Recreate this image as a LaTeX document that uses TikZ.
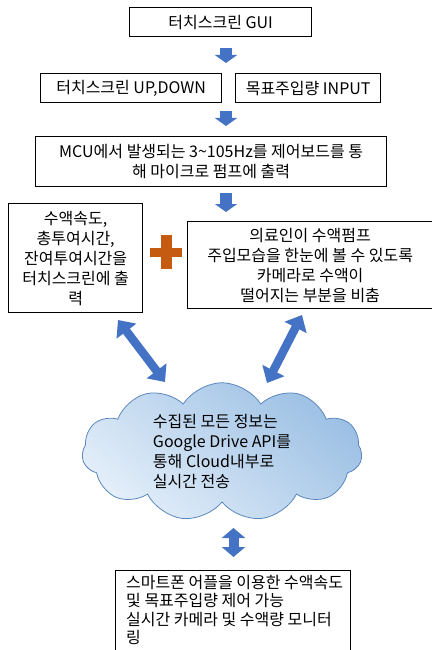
\documentclass[tikz,border=0pt]{standalone}
\usepackage{fontspec}
\setmainfont{Noto Sans CJK KR}
\usetikzlibrary{arrows.meta,shapes.symbols,calc}
\definecolor{arrowblue}{HTML}{4472C4}
\definecolor{plusorange}{HTML}{C55A11}
\definecolor{cloudlight}{HTML}{E3EEF9}
\definecolor{clouddark}{HTML}{9CC0E4}
\definecolor{cloudedge}{HTML}{5B87BE}
\begin{document}
\begin{tikzpicture}[x=1pt,y=-1pt,
  txt/.style={font=\fontsize{16}{20}\selectfont},
  box/.style={txt, draw=black, line width=1.3pt, fill=white, align=center, inner sep=0pt, anchor=north west},
  downarrow/.style={arrowblue, line width=12pt, -{Triangle[width=22pt,length=8pt]}},
  dblarrow/.style={arrowblue, line width=8.5pt, {Triangle[width=24pt,length=14pt]}-{Triangle[width=24pt,length=14pt]}},
  vdblarrow/.style={arrowblue, line width=10pt, {Triangle[width=23pt,length=10pt]}-{Triangle[width=23pt,length=10pt]}},
  plusbar/.style={fill=plusorange, draw=none}
]
\useasboundingbox (0,0) rectangle (431,650);

% boxes
\node[box, minimum width=182, minimum height=29] (gui) at (129,7) {터치스크린 GUI};
\node[box, minimum width=181, minimum height=29] (updown) at (40,73) {터치스크린 UP,DOWN};
\node[box, minimum width=145, minimum height=29] (input) at (235,73) {목표주입량 INPUT};
\node[box, minimum width=351, minimum height=50] (mcu) at (35,136) {MCU에서 발생되는 3\textasciitilde 105Hz를 제어보드를 통\\해 마이크로 펌프에 출력};
\node[box, minimum width=134, minimum height=109] (left) at (8,203) {수액속도,\\총투여시간,\\잔여투여시간을\\터치스크린에 출\\력};
\node[box, minimum width=245, minimum height=87] (right) at (187,221) {의료인이 수액펌프\\주입모습을 한눈에 볼 수 있도록\\카메라로 수액이\\떨어지는 부분을 비춤};

% cloud
\node[cloud, cloud puffs=11, cloud puff arc=115, aspect=2.3, minimum width=280, minimum height=120,
  draw=cloudedge, line width=0.8pt, shading=axis, top color=clouddark, bottom color=cloudlight, shading angle=-40,
  txt, align=left, inner sep=0pt] (cloud) at (222,452) {수집된 모든 정보는\\Google Drive API를\\통해 Cloud내부로\\실시간 전송};

% bottom box
\node[box, minimum width=235, minimum height=84] (app) at (115,570) {};
\node[font=\fontsize{16}{18.5}\selectfont, align=left, anchor=north west, inner sep=0pt] (apptext) at (126,575) {스마트폰 어플을 이용한 수액속도\\및 목표주입량 제어 가능\\실시간 카메라 및 수액량 모니터\\링};

% down arrows
\coordinate (a1s) at (226,48); \coordinate (a1e) at (226,63);
\coordinate (a2s) at (226,111); \coordinate (a2e) at (226,126);
\coordinate (a3s) at (226,193); \coordinate (a3e) at (226,212);
\draw[downarrow] (a1s) -- (a1e);
\draw[downarrow] (a2s) -- (a2e);
\draw[downarrow] (a3s) -- (a3e);

% double arrows
\coordinate (l1) at (118,320); \coordinate (l2) at (165,382);
\coordinate (r1) at (302,315); \coordinate (r2) at (267,383);
\coordinate (v1) at (233.5,528); \coordinate (v2) at (233.5,557);
\draw[dblarrow] (l1) -- (l2);
\draw[dblarrow] (r1) -- (r2);
\draw[vdblarrow] (v1) -- (v2);

% plus
\coordinate (plus) at (166,252);
\fill[plusbar] ($(plus)+(-16,-4.5)$) rectangle ($(plus)+(16,4.5)$);
\fill[plusbar] ($(plus)+(-5.5,-17)$) rectangle ($(plus)+(5.5,17)$);
\end{tikzpicture}
\end{document}
